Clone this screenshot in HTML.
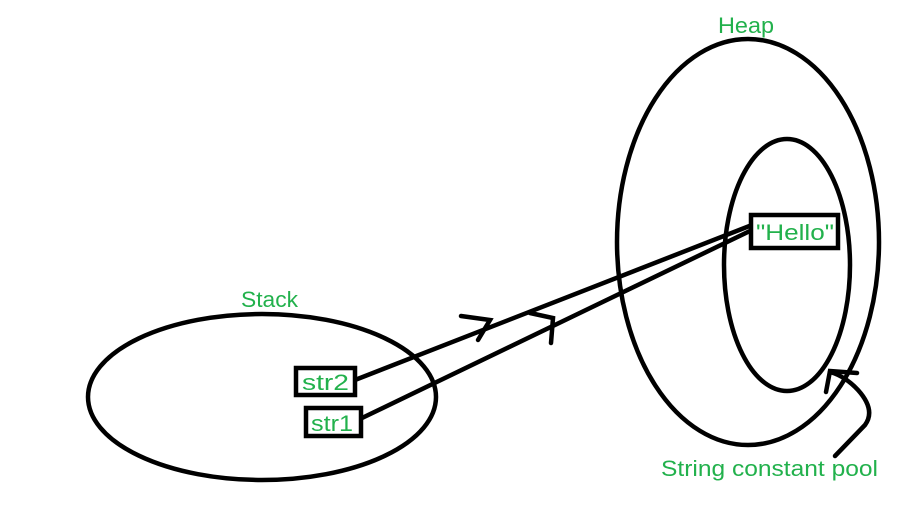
<!DOCTYPE html>
<html><head><style>
body{margin:0;background:#fff;width:905px;height:501px;overflow:hidden}
text{font-family:"Liberation Sans","DejaVu Sans",sans-serif;fill:#22b14c;font-size:22px}
</style></head><body>
<svg width="905" height="501" xmlns="http://www.w3.org/2000/svg">
<g fill="none" stroke="#000" stroke-width="4.5" stroke-linecap="round">
<ellipse cx="262" cy="397" rx="174" ry="83"/>
<ellipse cx="748" cy="242" rx="131" ry="203"/>
<ellipse cx="787" cy="265" rx="63" ry="126"/>
<line x1="355" y1="380" x2="752" y2="225"/>
<line x1="362" y1="418" x2="752" y2="230"/>
<polyline points="461,316 490,320 478,340"/>
<polyline points="530,313 553,318 551,343"/>
<path d="M835,456 L865,425 Q876,410 858,390 Q845,376 830,372"/>
<polyline points="857,373 830,371 826,392"/>
<rect x="296" y="368" width="59" height="27" fill="#fff"/>
<rect x="306" y="408" width="55" height="28" fill="#fff"/>
<rect x="751" y="215" width="87" height="33" fill="#fff"/>
</g>
<text x="302" y="390" textLength="47" lengthAdjust="spacingAndGlyphs">str2</text>
<text x="311" y="431" textLength="42" lengthAdjust="spacingAndGlyphs">str1</text>
<text x="756" y="240" textLength="78" lengthAdjust="spacingAndGlyphs">"Hello"</text>
<text x="718" y="33" textLength="56" lengthAdjust="spacingAndGlyphs">Heap</text>
<text x="241" y="307" textLength="57" lengthAdjust="spacingAndGlyphs">Stack</text>
<text x="661" y="476" textLength="217" lengthAdjust="spacingAndGlyphs">String constant pool</text>
</svg>
</body></html>
